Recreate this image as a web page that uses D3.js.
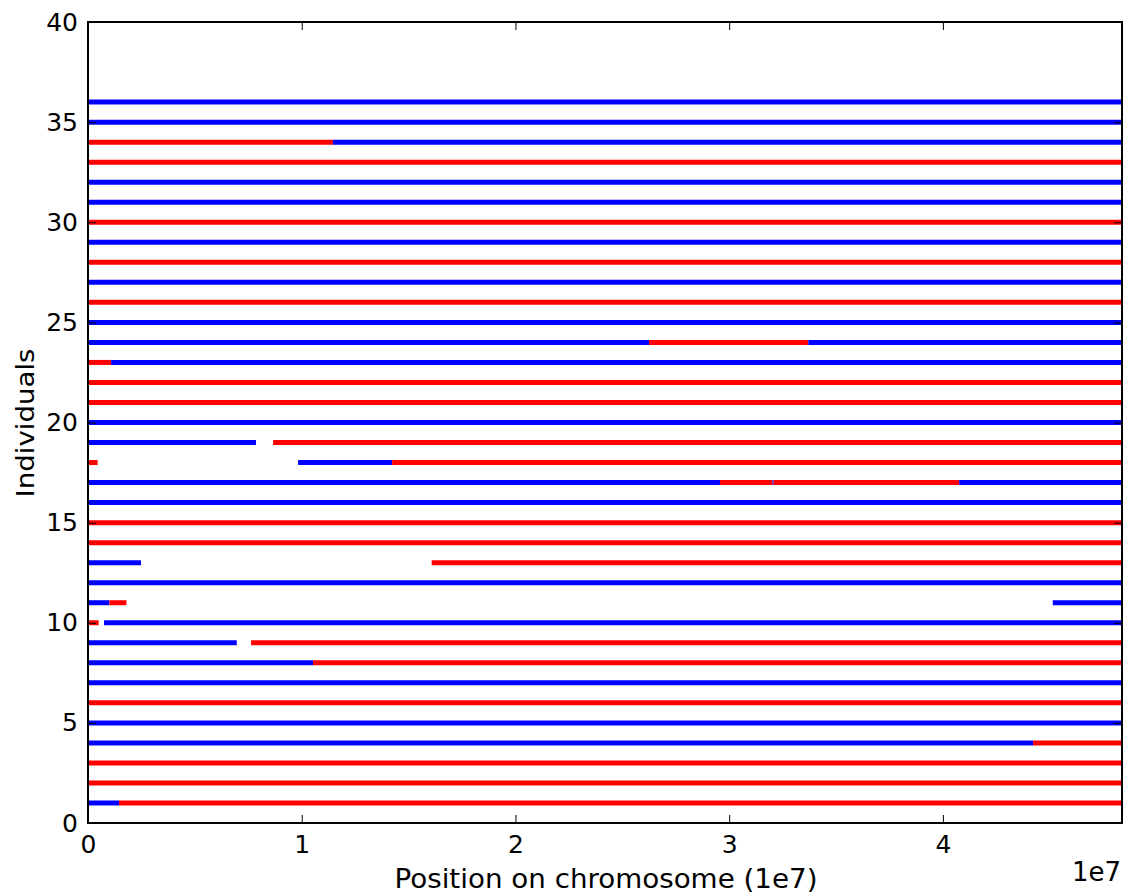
<!DOCTYPE html>
<html>
<head>
<meta charset="utf-8">
<script src="https://cdn.jsdelivr.net/npm/d3@7"></script>
<style>
  body { margin: 0; background: #fff; }
  text { font-family: "DejaVu Sans", sans-serif; fill: #000; }
</style>
</head>
<body>
<div id="chart"></div>
<script>
// Chromosome length in units of 1e7 bp
const chromEnd = 4.838;

// Individual ids (rows)
const individuals = [1, 2, 3, 4, 5, 6, 7, 8, 9, 10, 11, 12, 13, 14, 15, 16, 17, 18,
  19, 20, 21, 22, 23, 24, 25, 26, 27, 28, 29, 30, 31, 32, 33, 34, 35, 36];

// Ancestry segments per individual: [start, end, origin] (positions in 1e7 bp)
const segments = [
  [[0, 0.145, "B"], [0.145, 4.838, "R"]],
  [[0, 4.838, "R"]],
  [[0, 4.838, "R"]],
  [[0, 4.422, "B"], [4.422, 4.838, "R"]],
  [[0, 4.838, "B"]],
  [[0, 4.838, "R"]],
  [[0, 4.838, "B"]],
  [[0, 1.053, "B"], [1.053, 4.838, "R"]],
  [[0, 0.696, "B"], [0.763, 4.838, "R"]],
  [[0, 0.05, "R"], [0.075, 4.838, "B"]],
  [[0, 0.1, "B"], [0.1, 0.18, "R"], [4.514, 4.838, "B"]],
  [[0, 4.838, "B"]],
  [[0, 0.248, "B"], [1.608, 4.838, "R"]],
  [[0, 4.838, "R"]],
  [[0, 4.838, "R"]],
  [[0, 4.838, "B"]],
  [[0, 2.957, "B"], [2.957, 3.203, "R"], [3.203, 3.208, "B"], [3.208, 4.076, "R"], [4.076, 4.838, "B"]],
  [[0, 0.045, "R"], [0.983, 1.423, "B"], [1.423, 4.838, "R"]],
  [[0, 0.786, "B"], [0.866, 4.838, "R"]],
  [[0, 4.838, "B"]],
  [[0, 4.838, "R"]],
  [[0, 4.838, "R"]],
  [[0, 0.108, "R"], [0.108, 4.838, "B"]],
  [[0, 2.625, "B"], [2.625, 3.37, "R"], [3.37, 4.838, "B"]],
  [[0, 4.838, "B"]],
  [[0, 4.838, "R"]],
  [[0, 4.838, "B"]],
  [[0, 4.838, "R"]],
  [[0, 4.838, "B"]],
  [[0, 4.838, "R"]],
  [[0, 4.838, "B"]],
  [[0, 4.838, "B"]],
  [[0, 4.838, "R"]],
  [[0, 1.146, "R"], [1.146, 4.838, "B"]],
  [[0, 4.838, "B"]],
  [[0, 4.838, "B"]]
];

const xTicks = [0, 1, 2, 3, 4];
const yTicks = [0, 5, 10, 15, 20, 25, 30, 35, 40];

const width = 1131, height = 896;
const margin = {left: 88, right: 9, top: 22, bottom: 73};
const iw = width - margin.left - margin.right;
const ih = height - margin.top - margin.bottom;

const x = d3.scaleLinear().domain([0, chromEnd]).range([0, iw]);
const y = d3.scaleLinear().domain([0, 40]).range([ih, 0]);
const color = d3.scaleOrdinal().domain(["B", "R"]).range(["#0000ff", "#ff0000"]);

const svg = d3.select("#chart").append("svg")
  .attr("width", width)
  .attr("height", height);

svg.append("defs").append("clipPath").attr("id", "clip")
  .append("rect").attr("width", iw).attr("height", ih);

const g = svg.append("g")
  .attr("transform", `translate(${margin.left},${margin.top})`);

// flatten segments into line data
const lines = [];
segments.forEach((segs, i) => {
  segs.forEach(s => lines.push({id: individuals[i], x0: s[0], x1: s[1], c: s[2]}));
});

g.append("g").attr("clip-path", "url(#clip)")
  .selectAll("line")
  .data(lines)
  .enter()
  .append("line")
  .attr("x1", d => x(d.x0))
  .attr("x2", d => x(d.x1))
  .attr("y1", d => y(d.id))
  .attr("y2", d => y(d.id))
  .attr("stroke", d => color(d.c))
  .attr("stroke-width", 5);

// inward ticks on all four sides
const tickLen = 8;
const xb = d3.axisBottom(x).tickValues(xTicks).tickSizeInner(-tickLen).tickSizeOuter(0).tickPadding(12).tickFormat(d3.format("d"));
const xt = d3.axisTop(x).tickValues(xTicks).tickSizeInner(-tickLen).tickSizeOuter(0).tickFormat("");
const yl = d3.axisLeft(y).tickValues(yTicks).tickSizeInner(-tickLen).tickSizeOuter(0).tickPadding(10).tickFormat(d3.format("d"));
const yr = d3.axisRight(y).tickValues(yTicks).tickSizeInner(-tickLen).tickSizeOuter(0).tickFormat("");

[g.append("g").attr("transform", `translate(0,${ih})`).call(xb),
 g.append("g").call(xt),
 g.append("g").call(yl),
 g.append("g").attr("transform", `translate(${iw},0)`).call(yr)]
  .forEach(a => {
    a.select(".domain").remove();
    a.selectAll(".tick line").attr("stroke", "#000").attr("stroke-width", 1);
    a.selectAll(".tick text").style("font-size", "25px").style("font-family", "DejaVu Sans, sans-serif");
  });

// frame
g.append("rect")
  .attr("width", iw).attr("height", ih)
  .attr("fill", "none").attr("stroke", "#000").attr("stroke-width", 2);

svg.append("text")
  .attr("x", 606)
  .attr("y", 888)
  .attr("text-anchor", "middle")
  .attr("textLength", 423)
  .attr("lengthAdjust", "spacingAndGlyphs")
  .style("font-size", "26px")
  .text("Position on chromosome (1e7)");

svg.append("text")
  .attr("x", 1121)
  .attr("y", 881)
  .attr("text-anchor", "end")
  .style("font-size", "26px")
  .text("1e7");

svg.append("text")
  .attr("transform", `translate(34,423) rotate(-90)`)
  .attr("text-anchor", "middle")
  .attr("textLength", 149)
  .attr("lengthAdjust", "spacingAndGlyphs")
  .style("font-size", "25px")
  .text("Individuals");
</script>
</body>
</html>
